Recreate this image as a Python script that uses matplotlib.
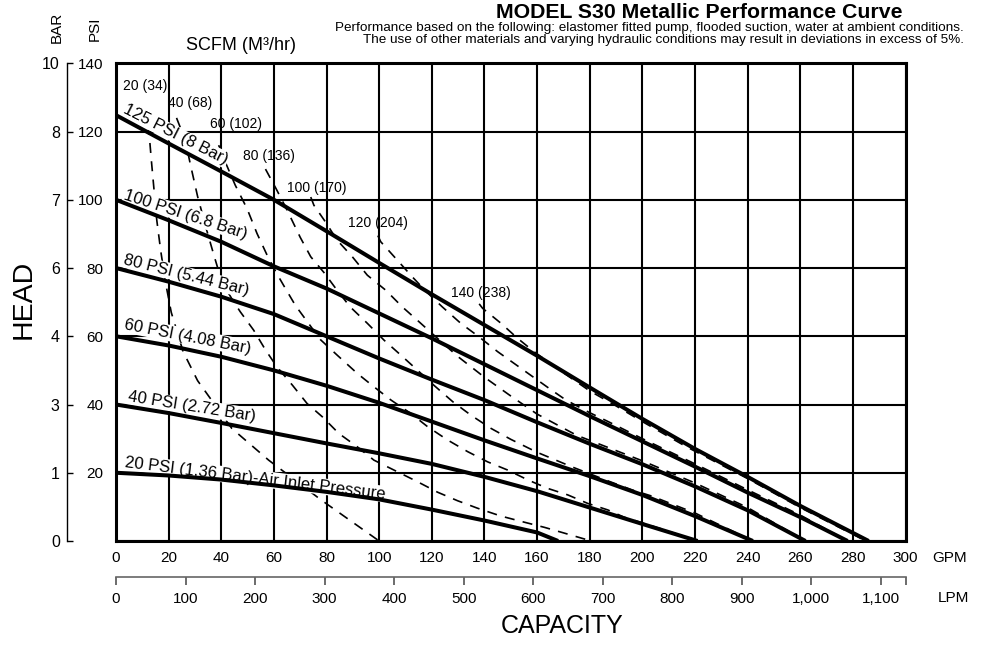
import matplotlib
matplotlib.use("Agg")
import matplotlib.pyplot as plt

plt.rcParams['font.family'] = ['Liberation Sans', 'DejaVu Sans']

# air inlet pressure curves (GPM, head PSI)
gpm_125 = [0, 20, 40, 60, 80, 100, 120, 140, 160, 180, 200, 220, 240, 260, 286]
psi_125 = [124.8, 116.5, 108.3, 100, 90.8, 81.5, 72.3, 63.3, 54.3, 45, 35.8, 27, 18.8, 10.3, 0]
gpm_100 = [0, 20, 40, 60, 80, 100, 120, 140, 160, 180, 200, 220, 240, 260, 278]
psi_100 = [100, 94, 87.7, 80.5, 74, 66.7, 59.4, 51.8, 44.2, 36.6, 29.2, 21.8, 14.2, 7, 0]
gpm_80 = [0, 20, 40, 60, 80, 100, 120, 140, 160, 180, 200, 220, 240, 262]
psi_80 = [80, 76, 71.6, 66.5, 60, 53.5, 47.3, 41.3, 34.8, 28.5, 22.5, 16, 9, 0]
gpm_60 = [0, 20, 40, 60, 80, 100, 120, 140, 160, 180, 200, 220, 242]
psi_60 = [60, 57.3, 54, 50, 45.5, 40.5, 35, 29.5, 24.2, 19, 13.5, 7.3, 0]
gpm_40 = [0, 20, 40, 60, 80, 100, 120, 140, 160, 180, 200, 221]
psi_40 = [40, 37.5, 34.6, 31.6, 28.6, 25.7, 22.6, 18.8, 14.6, 9.8, 5.0, 0]
gpm_20 = [0, 20, 40, 60, 80, 100, 120, 140, 160, 168]
psi_20 = [20, 19.2, 18, 16.3, 14.4, 12.2, 9.2, 6.0, 2.5, 0]

# air consumption curves (SCFM)
gpm_s20 = [12.3, 13.5, 15.5, 17, 19, 21, 25.5, 31, 44, 58, 78, 100]
psi_s20 = [122, 111, 94, 85, 75, 67, 55.5, 47, 33, 23.7, 12, 0]
gpm_s40 = [23, 26.3, 28.2, 31, 34.5, 37, 40.2, 44, 47.2, 52.3, 56.8, 61.2, 67, 72.6,
           78.4, 84.7, 91.7, 98, 106.9, 114.5, 122.2, 129.8, 137.4, 146.3, 155.2,
           162.8, 170.4, 180.6]
psi_s40 = [124, 117.5, 110.6, 101, 91, 84.3, 76, 71, 67.2, 61.8, 56, 51, 45.7, 40.3,
           36.4, 31.5, 27.6, 23.7, 20.3, 17.4, 14.3, 11.8, 9.6, 7.3, 5.5, 4, 2.3, 0]
gpm_s60 = [39, 41, 45.3, 49.8, 53.6, 57.4, 61, 64, 68.2, 77.7, 84, 91.7, 98, 104.5,
           112, 118.4, 126, 133.6, 141.2, 148.8, 156.5, 164.1, 171.7, 179.3, 186.9,
           193, 207, 221]
psi_s60 = [116, 112, 104.3, 97.4, 90.1, 83.8, 78.5, 74.5, 69, 59, 54.5, 49.1, 45.2,
           41.3, 37.4, 33.5, 29.6, 26.2, 23.2, 20.8, 17.9, 15.4, 13.5, 11, 9.1, 7,
           3.6, 0]
gpm_s80 = [56.8, 61, 65, 70, 74, 79, 84, 89, 95.5, 101.8, 108.2, 114.5, 121, 128,
           135, 142.5, 150, 160, 173, 188, 196, 203.4, 220, 242]
psi_s80 = [109, 103, 97, 89, 83.3, 78.7, 73.5, 68.6, 63.8, 58.9, 54.5, 50.1, 45.5,
           40.8, 36.8, 33, 29.8, 26, 21.8, 17.3, 15, 13.2, 8.2, 0]
gpm_s100 = [74, 75.2, 79.6, 84, 89.8, 95.5, 102.5, 108.8, 114.5, 122, 130, 140, 150,
            160, 175, 190, 200, 220, 240, 262]
psi_s100 = [100.8, 98.4, 93.5, 88.2, 83.3, 77.9, 73.5, 68.6, 64.7, 59.5, 54, 48,
            42.5, 37.2, 31, 26.5, 23.5, 17, 9.8, 0]
gpm_s120 = [99.5, 100.6, 106.9, 112.6, 118, 124, 131, 138, 145, 155, 165, 171, 180,
            187, 200, 220, 240, 260, 278]
psi_s120 = [89.5, 87.7, 82.3, 77.4, 73, 68.6, 63.8, 59.8, 55.5, 50, 44.5, 41.3, 37.6,
            35, 30, 22.6, 15, 7.6, 0]
gpm_s140 = [138, 139.3, 146.3, 152.6, 159, 170, 180, 190, 200, 216.8, 230, 240, 260, 285]
psi_s140 = [69.5, 68.2, 63.8, 59.4, 55.4, 49.3, 44, 39.6, 35, 27.6, 22.3, 18.3, 9.8, 0]

air_curves = [(gpm_125, psi_125), (gpm_100, psi_100), (gpm_80, psi_80),
              (gpm_60, psi_60), (gpm_40, psi_40), (gpm_20, psi_20)]
air_labels = ['125 PSI (8 Bar)', '100 PSI (6.8 Bar)', '80 PSI (5.44 Bar)',
              '60 PSI (4.08 Bar)', '40 PSI (2.72 Bar)',
              '20 PSI (1.36 Bar)-Air Inlet Pressure']
air_label_xy = [(2.5, 125.5), (2.5, 100.3), (2.5, 81.2), (3.0, 62.2), (4.3, 41.0), (3.0, 21.8)]
air_label_rot = [27, 18, 14, 11, 9, 7]

scfm_curves = [(gpm_s20, psi_s20), (gpm_s40, psi_s40), (gpm_s60, psi_s60),
               (gpm_s80, psi_s80), (gpm_s100, psi_s100), (gpm_s120, psi_s120),
               (gpm_s140, psi_s140)]
scfm_labels = ['20 (34)', '40 (68)', '60 (102)', '80 (136)', '100 (170)', '120 (204)', '140 (238)']
scfm_label_xy = [(2.7, 133.3), (19.8, 128.4), (35.8, 122.3), (48.4, 112.9),
                 (64.8, 103.6), (88, 93.1), (127.2, 72.7)]

bar_labels = ['0', '1', '3', '4', '6', '7', '8', '10']
psi_ticks = list(range(0, 141, 20))
gpm_ticks = list(range(0, 301, 20))
lpm_ticks = list(range(0, 1101, 100))
lpm_per_gpm = 3.78541

fig = plt.figure(figsize=(9.84, 6.46), dpi=100)
ax = fig.add_axes([116 / 984, 105 / 646, 789.5 / 984, 477.7 / 646])
ax.set_xlim(0, 300)
ax.set_ylim(0, 140)
ax.set_xticks(gpm_ticks)
ax.set_yticks(psi_ticks)
ax.set_yticklabels([''] + [str(v) for v in psi_ticks[1:]])
ax.tick_params(axis='both', length=0, labelsize=11)
ax.tick_params(axis='x', pad=7)
ax.tick_params(axis='y', pad=9)
ax.set_axisbelow(True)
ax.grid(True, color='black', lw=1.5)
for s in ax.spines.values():
    s.set_linewidth(2.2)
    s.set_zorder(6)

for g, p in scfm_curves:
    ax.plot(g, p, color='black', lw=1.2, dashes=(6, 5), zorder=2)
for g, p in air_curves:
    ax.plot(g, p, color='black', lw=2.9, solid_capstyle='butt', zorder=5)

for txt, (x, y), r in zip(air_labels, air_label_xy, air_label_rot):
    ax.text(x, y, txt, rotation=-r, rotation_mode='anchor', ha='left', va='baseline',
            fontsize=12, zorder=4,
            bbox=dict(facecolor='white', edgecolor='none', pad=0.5))
for txt, (x, y) in zip(scfm_labels, scfm_label_xy):
    ax.text(x, y, txt, ha='left', va='center', fontsize=10, zorder=4)

# BAR axis
bax = fig.add_axes([66.7 / 984, 105 / 646, 0.0001, 477.7 / 646])
bax.set_ylim(0, 140)
bax.set_yticks(psi_ticks)
bax.set_yticklabels(bar_labels)
bax.set_xticks([])
for s in ['top', 'right', 'bottom']:
    bax.spines[s].set_visible(False)
bax.spines['left'].set_linewidth(1)
bax.tick_params(axis='y', direction='in', length=4, width=1, pad=5, labelsize=11.5)
bax.patch.set_visible(False)

# LPM axis
lax = fig.add_axes([116 / 984, 69 / 646, 789.5 / 984, 0.0001])
lax.set_xlim(0, 300 * lpm_per_gpm)
lax.set_xticks(lpm_ticks)
lax.set_xticklabels([f'{v:,}' for v in lpm_ticks])
lax.set_xticks([300 * lpm_per_gpm], minor=True)
lax.set_yticks([])
for s in ['top', 'right', 'left']:
    lax.spines[s].set_visible(False)
lax.spines['bottom'].set_linewidth(1.2)
lax.spines['bottom'].set_color('#666666')
lax.tick_params(axis='x', which='both', direction='out', length=6, width=1.1,
                color='#444444', pad=4.5, labelsize=11)
lax.patch.set_visible(False)

fig.text(932 / 984, 1 - 558 / 646, 'GPM', ha='left', va='center', fontsize=11)
fig.text(938 / 984, 1 - 598 / 646, 'LPM', ha='left', va='center', fontsize=11)
fig.text(562 / 984, 1 - 626 / 646, 'CAPACITY', ha='center', va='center', fontsize=18)
fig.text(24 / 984, 1 - 299 / 646, 'HEAD', ha='center', va='center', rotation=90, fontsize=20.5)
fig.text(57 / 984, 1 - 27 / 646, 'BAR', ha='center', va='center', rotation=90, fontsize=11)
fig.text(95 / 984, 1 - 29 / 646, 'PSI', ha='center', va='center', rotation=90, fontsize=11)
fig.text(241 / 984, 1 - 45 / 646, 'SCFM (M³/hr)', ha='center', va='center', fontsize=13)

fig.text(903 / 984, 1 - 12.5 / 646, 'MODEL S30 Metallic Performance Curve',
         ha='right', va='center', fontsize=15.3, fontweight='bold')
fig.text(964 / 984, 1 - 28 / 646,
         'Performance based on the following: elastomer fitted pump, flooded suction, water at ambient conditions.',
         ha='right', va='center', fontsize=9.7)
fig.text(964 / 984, 1 - 40.5 / 646,
         'The use of other materials and varying hydraulic conditions may result in deviations in excess of 5%.',
         ha='right', va='center', fontsize=9.7)

fig.savefig('out.png', dpi=100)
